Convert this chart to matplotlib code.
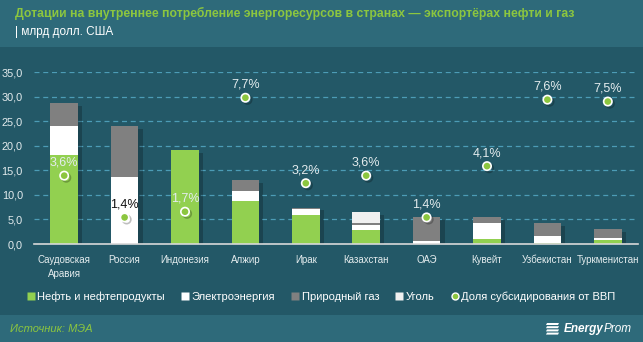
"""Energy subsidies in oil & gas exporting countries — stacked bars with GDP share dots."""

import matplotlib
matplotlib.use("Agg")
import matplotlib.pyplot as plt
import matplotlib.patheffects as pe
from matplotlib.lines import Line2D
from matplotlib.patches import Rectangle, Polygon
import numpy as np

countries = ["Саудовская\nАравия", "Россия", "Индонезия", "Алжир", "Ирак",
             "Казахстан", "ОАЭ", "Кувейт", "Узбекистан", "Туркменистан"]
oil = [18.1, 0.0, 19.1, 8.8, 5.9, 2.85, 0.0, 1.0, 0.2, 0.8]
electricity = [5.9, 13.6, 0.0, 2.0, 1.3, 1.05, 0.6, 3.3, 1.4, 0.4]
gas = [4.7, 10.4, 0.0, 2.2, 0.2, 0.4, 4.9, 1.2, 2.7, 1.8]
coal = [0.0, 0.0, 0.0, 0.0, 0.0, 2.2, 0.0, 0.0, 0.0, 0.0]
gdp_share = [3.6, 1.4, 1.7, 7.7, 3.2, 3.6, 1.4, 4.1, 7.6, 7.5]
yticks = [0, 5, 10, 15, 20, 25, 30, 35]

BG = "#235867"
HEADER = "#2e6a7a"
GREEN = "#92d050"
GRAY = "#808080"
COAL = "#f0f0f0"
TEXT = "#e4ecee"

plt.rcParams["font.family"] = ["Liberation Sans", "DejaVu Sans"]

fig = plt.figure(figsize=(6.43, 3.42), dpi=100)
fig.patch.set_facecolor(BG)

# header and footer bands
fig.patches.append(Rectangle((0, 1 - 47 / 342), 1, 47 / 342, transform=fig.transFigure,
                             facecolor=HEADER, edgecolor="none", zorder=0))
fig.patches.append(Rectangle((0, 0), 1, 27 / 342, transform=fig.transFigure,
                             facecolor=HEADER, edgecolor="none", zorder=0))

fig.text(15 / 643, 1 - 13 / 342,
         "Дотации на внутреннее потребление энергоресурсов в странах — экспортёрах нефти и газ",
         color="#8cc63f", fontsize=8.8, fontweight="bold", va="center", ha="left")
fig.text(15 / 643, 1 - 32 / 342, "| млрд долл. США", color="white", fontsize=8.5,
         va="center", ha="left")

ax = fig.add_axes([34 / 643, 1 - 244 / 342, 604 / 643, (244 - 72.3) / 342])
ax.set_facecolor("none")
x = np.arange(len(countries))
w = 0.46

bottom = np.zeros(len(countries))
for vals, col in [(oil, GREEN), (electricity, "white"), (gas, GRAY), (coal, COAL)]:
    ax.bar(x, vals, w, bottom=bottom, color=col, edgecolor="none", zorder=3)
    bottom += np.array(vals)

# soft shadow behind each full stack
sh = ax.bar(x, bottom, w, color=BG, edgecolor="none", zorder=2)
for b in sh:
    b.set_path_effects([pe.SimplePatchShadow(offset=(3, -2), shadow_rgbFace="black", alpha=0.22)])

ax.set_xlim(-0.5, len(countries) - 0.5)
ax.set_ylim(0, 35)
ax.set_yticks(yticks)
ax.set_yticklabels([f"{v:.1f}".replace(".", ",") for v in yticks])
ax.yaxis.grid(True, color="#4c9cb6", linestyle=(0, (4, 3)), linewidth=0.9, zorder=1)
ax.set_axisbelow(True)
ax.set_xticks(x)
ax.set_xticklabels(countries, linespacing=1.5)
ax.tick_params(axis="both", length=0, colors=TEXT, labelsize=7.8)
ax.tick_params(axis="x", pad=8, labelsize=7)
ax.tick_params(axis="y", pad=8)
for s in ["top", "right", "left"]:
    ax.spines[s].set_visible(False)
ax.spines["bottom"].set_color("#d8d8d8")
ax.spines["bottom"].set_linewidth(1.2)
ax.spines["bottom"].set_zorder(4)

ax2 = ax.twinx()
ax2.set_ylim(0, 9.04)
ax2.axis("off")
ax2.plot(x, gdp_share, linestyle="none", marker="o", markersize=6,
         markerfacecolor="#8cc63f", markeredgecolor="white", markeredgewidth=1.2, zorder=5,
         path_effects=[pe.SimpleLineShadow(offset=(1.5, -1.5), shadow_color="black", alpha=0.25),
                       pe.Normal()])
label_colors = [TEXT, "#111111", TEXT, TEXT, TEXT, TEXT, TEXT, TEXT, TEXT, TEXT]
for xi, v, c in zip(x, gdp_share, label_colors):
    ax2.annotate(f"{v:.1f}%".replace(".", ","), (xi, v), xytext=(0, 13),
                 textcoords="offset pixels", ha="center", va="center",
                 color=c, fontsize=9)

handles = [
    Line2D([], [], linestyle="none", marker="s", markersize=5.5, markerfacecolor=GREEN, markeredgecolor="none"),
    Line2D([], [], linestyle="none", marker="s", markersize=5.5, markerfacecolor="white", markeredgecolor="none"),
    Line2D([], [], linestyle="none", marker="s", markersize=5.5, markerfacecolor=GRAY, markeredgecolor="none"),
    Line2D([], [], linestyle="none", marker="s", markersize=5.5, markerfacecolor=COAL, markeredgecolor="none"),
    Line2D([], [], linestyle="none", marker="o", markersize=5, markerfacecolor="#8cc63f", markeredgecolor="white"),
]
labels = ["Нефть и нефтепродукты", "Электроэнергия", "Природный газ", "Уголь",
          "Доля субсидирования от ВВП"]
fig.legend(handles, labels, loc="center", bbox_to_anchor=(0.5, 1 - 297 / 342), ncol=5,
           frameon=False, fontsize=8, handlelength=0.6, handletextpad=0.3,
           columnspacing=1.5, labelcolor="white")

fig.text(10 / 643, 1 - 329 / 342, "Источник: МЭА", color="#8cc63f", fontsize=8,
         fontstyle="italic", va="center", ha="left")

# EnergyProm logo
for i in range(4):
    y0 = 1 - (323 + i * 3.2) / 342
    fig.patches.append(Polygon([[547 / 643, y0], [559 / 643, y0],
                                [558 / 643, y0 - 2 / 342], [546 / 643, y0 - 2 / 342]],
                               closed=True, transform=fig.transFigure, facecolor="white",
                               edgecolor="none", zorder=3))
fig.text(604 / 643, 1 - 329 / 342, "Energy", color="white", fontsize=8.5,
         fontweight="bold", fontstyle="italic", va="center", ha="right")
fig.text(604 / 643, 1 - 329 / 342, "Prom", color="white", fontsize=8.5,
         fontstyle="italic", va="center", ha="left")

fig.savefig("out.png", dpi=100, facecolor=fig.get_facecolor())
